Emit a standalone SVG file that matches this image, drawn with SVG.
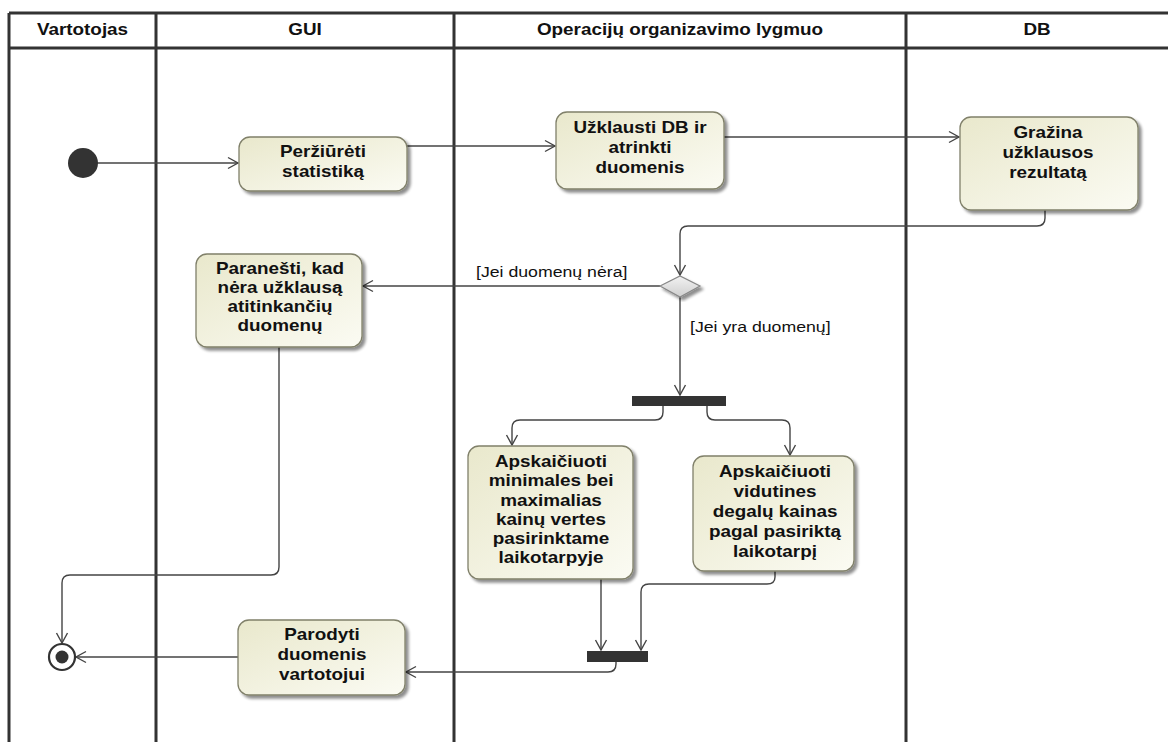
<svg xmlns="http://www.w3.org/2000/svg" width="1168" height="742" viewBox="0 0 1168 742">
  <style>
    .lane { stroke: #333; stroke-width: 3; fill: none; }
    .hdr { font-family: "Liberation Sans", Arial, sans-serif; font-weight: bold; font-size: 16px; fill: #111; text-anchor: middle; }
    .lbl { font-family: "Liberation Sans", Arial, sans-serif; font-weight: bold; font-size: 16px; fill: #111; text-anchor: middle; }
    .guard { font-family: "Liberation Sans", Arial, sans-serif; font-size: 15px; fill: #111; }
    .act { fill: url(#actFill); stroke: #80806a; stroke-width: 1.3; filter: url(#shadow); }
    .flow { fill: none; stroke: #444; stroke-width: 1.4; marker-end: url(#arrow); }
    .bar { fill: #333; }
  </style>
  <defs>
    <linearGradient id="actFill" x1="0" y1="0" x2="1" y2="1">
      <stop offset="0" stop-color="#e9e8cc"/>
      <stop offset="1" stop-color="#fbfbf3"/>
    </linearGradient>
    <linearGradient id="decFill" x1="0" y1="0" x2="0" y2="1">
      <stop offset="0" stop-color="#f2f2f2"/>
      <stop offset="1" stop-color="#cfcfcf"/>
    </linearGradient>
    <filter id="shadow" x="-10%" y="-10%" width="130%" height="130%">
      <feGaussianBlur in="SourceAlpha" stdDeviation="1.5"/>
      <feOffset dx="3" dy="3" result="off"/>
      <feComponentTransfer><feFuncA type="linear" slope="0.45"/></feComponentTransfer>
      <feMerge><feMergeNode/><feMergeNode in="SourceGraphic"/></feMerge>
    </filter>
    <marker id="arrow" markerUnits="userSpaceOnUse" markerWidth="14" markerHeight="14" viewBox="-12 -7 14 14" refX="0" refY="0" orient="auto">
      <path d="M-10,-5.5 L0,0 L-10,5.5" fill="none" stroke="#444" stroke-width="1.4"/>
    </marker>
  </defs>

  <rect width="1168" height="742" fill="#fff"/>

  <!-- swimlanes -->
  <g id="lanes">
    <path class="lane" d="M9,13 H1168 M9,48 H1168 M9,13 V742 M156,13 V742 M454,13 V742 M906,13 V742"/>
    <text class="hdr" transform="translate(82.5 35) scale(1.18 1)">Vartotojas</text>
    <text class="hdr" transform="translate(305 35) scale(1.18 1)">GUI</text>
    <text class="hdr" transform="translate(680 35) scale(1.18 1)">Operacijų organizavimo lygmuo</text>
    <text class="hdr" transform="translate(1037 35) scale(1.18 1)">DB</text>
  </g>

  <!-- control flows -->
  <g id="connectors">
    <path class="flow" d="M97,163 H238"/>
    <path class="flow" d="M407,146 H555"/>
    <path class="flow" d="M724,137 H959"/>
    <path class="flow" d="M1045,210 V218 Q1045,226 1037,226 H688 Q680,226 680,234 V275"/>
    <path class="flow" d="M660,286 H363"/>
    <path class="flow" d="M680,297 V395"/>
    <path class="flow" d="M663,406 V412 Q663,420 655,420 H520 Q512,420 512,428 V445"/>
    <path class="flow" d="M707,406 V412 Q707,420 715,420 H782 Q790,420 790,428 V455"/>
    <path class="flow" d="M601,579 V650"/>
    <path class="flow" d="M775,571 V577 Q775,584 767,584 H649 Q641,584 641,592 V650"/>
    <path class="flow" d="M616,662 V664 Q616,672 608,672 H406"/>
    <path class="flow" d="M238,657 H76"/>
    <path class="flow" d="M279,347 V567 Q279,575 271,575 H70 Q62,575 62,583 V643"/>
    <text class="guard" transform="translate(476 277) scale(1.18 1)">[Jei duomenų nėra]</text>
    <text class="guard" transform="translate(690 332) scale(1.18 1)">[Jei yra duomenų]</text>
  </g>

  <!-- initial node -->
  <g id="start">
    <circle cx="83" cy="163" r="15" fill="#333"/>
  </g>

  <g id="perziureti">
    <rect class="act" x="239" y="137" width="168" height="54" rx="11"/>
    <text class="lbl" transform="translate(323 157) scale(1.18 1)"><tspan x="0" y="0">Peržiūrėti</tspan><tspan x="0" y="20">statistiką</tspan></text>
  </g>

  <g id="uzklausti">
    <rect class="act" x="556" y="112" width="168" height="77" rx="11"/>
    <text class="lbl" transform="translate(640 133) scale(1.18 1)"><tspan x="0" y="0">Užklausti DB ir</tspan><tspan x="0" y="20">atrinkti</tspan><tspan x="0" y="40">duomenis</tspan></text>
  </g>

  <g id="grazina">
    <rect class="act" x="960" y="117" width="178" height="93" rx="11"/>
    <text class="lbl" transform="translate(1048 138) scale(1.18 1)"><tspan x="0" y="0">Gražina</tspan><tspan x="0" y="20">užklausos</tspan><tspan x="0" y="40">rezultatą</tspan></text>
  </g>

  <g id="sprendimas">
    <polygon points="660,286 680,276 700,286 680,297" fill="url(#decFill)" stroke="#888" stroke-width="1.2" filter="url(#shadow)"/>
  </g>

  <g id="paranesti">
    <rect class="act" x="196" y="254" width="166" height="93" rx="11"/>
    <text class="lbl" transform="translate(280 274) scale(1.18 1)"><tspan x="0" y="0">Paranešti, kad</tspan><tspan x="0" y="19">nėra užklausą</tspan><tspan x="0" y="38">atitinkančių</tspan><tspan x="0" y="57">duomenų</tspan></text>
  </g>

  <g id="fork">
    <rect class="bar" x="632" y="396" width="94" height="10"/>
  </g>

  <g id="apskaiciuoti-min-max">
    <rect class="act" x="468" y="446" width="165" height="133" rx="11"/>
    <text class="lbl" transform="translate(551 467) scale(1.18 1)"><tspan x="0" y="0">Apskaičiuoti</tspan><tspan x="0" y="19.3">minimales bei</tspan><tspan x="0" y="38.6">maximalias</tspan><tspan x="0" y="57.9">kainų vertes</tspan><tspan x="0" y="77.2">pasirinktame</tspan><tspan x="0" y="96.5">laikotarpyje</tspan></text>
  </g>

  <g id="apskaiciuoti-vidurkis">
    <rect class="act" x="693" y="456" width="161" height="115" rx="11"/>
    <text class="lbl" transform="translate(775 477) scale(1.18 1)"><tspan x="0" y="0">Apskaičiuoti</tspan><tspan x="0" y="20">vidutines</tspan><tspan x="0" y="40">degalų kainas</tspan><tspan x="0" y="60">pagal pasiriktą</tspan><tspan x="0" y="80">laikotarpį</tspan></text>
  </g>

  <g id="join">
    <rect class="bar" x="587" y="651" width="61" height="11"/>
  </g>

  <g id="parodyti">
    <rect class="act" x="238" y="620" width="167" height="75" rx="11"/>
    <text class="lbl" transform="translate(322 640) scale(1.18 1)"><tspan x="0" y="0">Parodyti</tspan><tspan x="0" y="20">duomenis</tspan><tspan x="0" y="40">vartotojui</tspan></text>
  </g>

  <!-- final node -->
  <g id="end">
    <circle cx="62" cy="657" r="13" fill="#fff" stroke="#333" stroke-width="2.2"/>
    <circle cx="62" cy="657" r="6.5" fill="#333"/>
  </g>
</svg>
